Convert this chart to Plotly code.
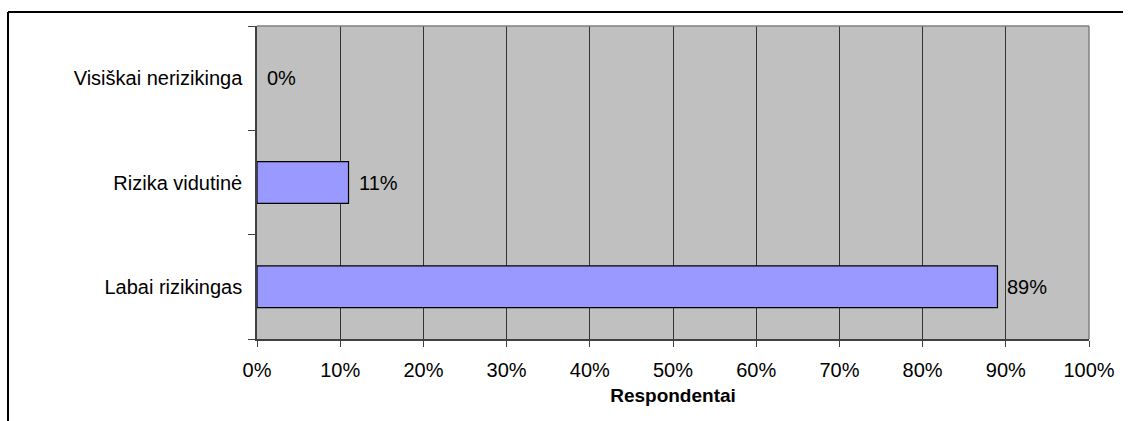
import plotly.graph_objects as go

# Survey answers (bottom to top) and share of respondents, %
categories = ["Labai rizikingas", "Rizika vidutinė", "Visiškai nerizikinga"]
shares = [89, 11, 0]
x_ticks = list(range(0, 101, 10))
x_tick_labels = [f"{v}%" for v in x_ticks]
axis_title = "Respondentai"

W, H = 1128, 421
L, R, T, B = 257, 39, 26, 82
plot_w = W - L - R
plot_h = H - T - B


def px_x(p):
    return (p - L) / plot_w


def px_y(p):
    return (H - B - p) / plot_h


FONT = "Liberation Sans, Arial, sans-serif"
FS = 20

fig = go.Figure(
    go.Bar(
        x=shares,
        y=categories,
        orientation="h",
        marker=dict(
            color="#9999FF",
            line=dict(color="#000000", width=[1.2 if v > 0 else 0 for v in shares]),
        ),
        hoverinfo="skip",
    )
)

# Value labels just past the end of each bar
for cat, v in zip(categories, shares):
    fig.add_annotation(
        x=v, y=cat, xref="x", yref="y",
        text=f"{v}%", showarrow=False,
        xanchor="left", yanchor="middle", xshift=8,
        font=dict(family=FONT, size=FS, color="#000000"),
    )

fig.update_layout(
    width=W,
    height=H,
    margin=dict(l=L, r=R, t=T, b=B, pad=0),
    paper_bgcolor="#FFFFFF",
    plot_bgcolor="#C0C0C0",
    bargap=0.6,
    showlegend=False,
    font=dict(family=FONT, size=FS, color="#000000"),
    xaxis=dict(
        range=[0, 100],
        tickvals=x_ticks,
        ticktext=x_tick_labels,
        showgrid=True,
        gridcolor="#333333",
        gridwidth=1,
        ticks="outside",
        ticklen=6,
        tickcolor="#404040",
        showline=True,
        linecolor="#404040",
        linewidth=1.5,
        zeroline=False,
        ticklabelstandoff=6,
        tickfont=dict(family=FONT, size=FS),
        title=dict(
            text=f"<b>{axis_title}</b>",
            font=dict(family=FONT, size=19),
            standoff=9,
        ),
        fixedrange=True,
    ),
    yaxis=dict(
        categoryorder="array",
        categoryarray=categories,
        tickson="boundaries",
        ticks="outside",
        ticklen=7,
        tickcolor="#404040",
        showgrid=False,
        showline=True,
        linecolor="#404040",
        linewidth=1.5,
        zeroline=False,
        ticklabelstandoff=9,
        tickfont=dict(family=FONT, size=FS),
        fixedrange=True,
    ),
)

# Plot-area frame on the top and right
fig.add_shape(type="line", xref="paper", yref="paper", x0=0, x1=1, y0=1, y1=1,
              line=dict(color="#808080", width=1.5))
fig.add_shape(type="line", xref="paper", yref="paper", x0=1, x1=1, y0=0, y1=1,
              line=dict(color="#808080", width=1.5))

# Outer chart border (top and left edges)
fig.add_shape(type="line", xref="paper", yref="paper",
              x0=px_x(8), x1=px_x(1123), y0=px_y(12), y1=px_y(12),
              line=dict(color="#000000", width=2))
fig.add_shape(type="line", xref="paper", yref="paper",
              x0=px_x(8), x1=px_x(8), y0=px_y(12), y1=px_y(430),
              line=dict(color="#000000", width=2))

fig.write_html("out.html", config={"displayModeBar": False})
